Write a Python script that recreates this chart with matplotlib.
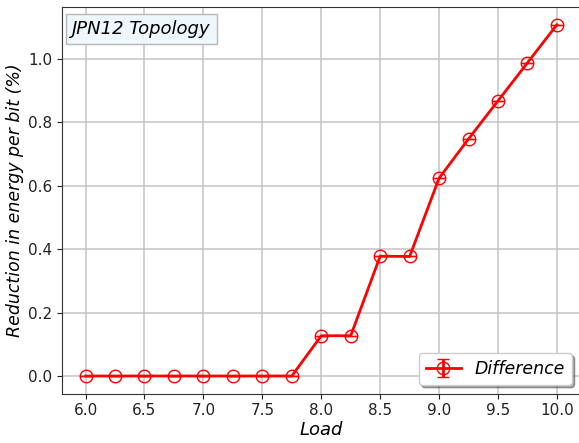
import matplotlib
matplotlib.use("Agg")
import matplotlib.pyplot as plt
import numpy as np

load = [6.0, 6.25, 6.5, 6.75, 7.0, 7.25, 7.5, 7.75, 8.0, 8.25, 8.5, 8.75, 9.0, 9.25, 9.5, 9.75, 10.0]
diff = [0.0, 0.0, 0.0, 0.0, 0.0, 0.0, 0.0, 0.0, 0.127, 0.127, 0.378, 0.377, 0.624, 0.748, 0.868, 0.988, 1.108]
err = [0.0] * len(load)

fig = plt.figure(figsize=(5.79, 4.43), dpi=100)
ax = fig.add_axes([62/579, 49.4/443, (580.5-62)/579, (436.5-49.4)/443])
ax.errorbar(load, diff, yerr=err, color='red', marker='o', markersize=9,
            markerfacecolor='none', markeredgecolor='red', linewidth=2,
            capsize=4, label='Difference')
ax.grid(True, color='#c4c4c4', linewidth=1.1)
ax.set_xlim(5.8, 10.2)
ax.set_ylim(-0.0555, 1.1655)
ax.set_xticks([6.0, 6.5, 7.0, 7.5, 8.0, 8.5, 9.0, 9.5, 10.0])
ax.set_yticks([0.0, 0.2, 0.4, 0.6, 0.8, 1.0])
ax.tick_params(labelsize=11, colors='#222222')
for s in ax.spines.values():
    s.set_color('#333333')
ax.set_xlabel('Load', fontsize=13, style='italic', labelpad=2)
ax.set_ylabel('Reduction in energy per bit (%)', fontsize=12.5, style='italic', labelpad=3)
leg = ax.legend(loc='lower right', shadow=True, prop={'style': 'italic', 'size': 12.5},
                borderaxespad=0.5)
ax.text(0.02, 0.965, 'JPN12 Topology', transform=ax.transAxes, fontsize=13,
        style='italic', va='top', ha='left',
        bbox=dict(boxstyle='square,pad=0.35', facecolor='#eef7fc', edgecolor='#b8b8b8'))
fig.savefig('out.png', dpi=100)
